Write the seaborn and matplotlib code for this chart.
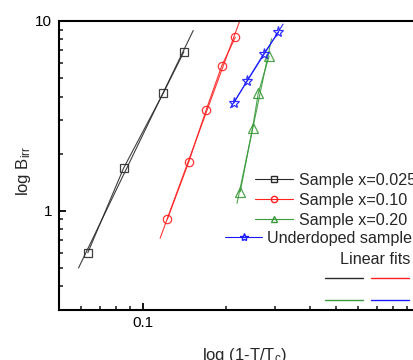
import numpy as np
import pandas as pd
import matplotlib
matplotlib.use("Agg")
import matplotlib.pyplot as plt
from matplotlib.lines import Line2D
from matplotlib.ticker import LogLocator, NullFormatter, FixedLocator, FixedFormatter
import seaborn as sns

# ---- data ----
x_025 = [0.0635, 0.0855, 0.1189, 0.141]
y_025 = [0.601, 1.68, 4.18, 6.89]
x_010 = [0.1229, 0.1466, 0.1696, 0.1931, 0.216]
y_010 = [0.904, 1.80, 3.40, 5.82, 8.21]
x_020 = [0.225, 0.2494, 0.2612, 0.286]
y_020 = [1.26, 2.74, 4.16, 6.54]
x_und = [0.2132, 0.2378, 0.2731, 0.309]
y_und = [3.69, 4.83, 6.70, 8.72]
fit_range_025 = [0.0588, 0.1523]
fit_range_010 = [0.1157, 0.232]
fit_range_020 = [0.219, 0.2917]
fit_range_und = [0.2073, 0.321]
labels = ["Sample x=0.025", "Sample x=0.10", "Sample x=0.20", "Underdoped sample"]
fit_title = "Linear fits"

c_blk, c_red, c_grn, c_blu = "#2a2a2a", "#ff2020", "#3a9a3a", "#1a1aff"

sns.set_style("ticks")
plt.rcParams["font.family"] = ["Liberation Sans", "DejaVu Sans"]
plt.rcParams["mathtext.fontset"] = "custom"
plt.rcParams["mathtext.rm"] = "Liberation Sans"
plt.rcParams["mathtext.it"] = "Liberation Sans:italic"

fig = plt.figure(figsize=(4.14, 3.6), dpi=100)
ax = fig.add_axes([59/414, 50/360, 361/414, 289/360])

series = [
    (x_025, y_025, fit_range_025, c_blk, "s"),
    (x_010, y_010, fit_range_010, c_red, "o"),
    (x_020, y_020, fit_range_020, c_grn, "^"),
    (x_und, y_und, fit_range_und, c_blu, "*"),
]
ms = {"s": 5.5, "o": 6, "^": 7.5, "*": 8}
for xs, ys, fr, col, mk in series:
    df = pd.DataFrame({"x": xs, "y": ys})
    sns.lineplot(data=df, x="x", y="y", ax=ax, color=col, lw=0.8, marker=mk,
                 markersize=ms[mk], markerfacecolor="none", markeredgecolor=col,
                 markeredgewidth=0.9, sort=False, estimator=None, alpha=0.9)
    k, b = np.polyfit(np.log10(xs), np.log10(ys), 1)
    fx = np.array(fr)
    fy = 10 ** (k * np.log10(fx) + b)
    sns.lineplot(x=fx, y=fy, ax=ax, color=col, lw=0.8, estimator=None, alpha=0.9)

ax.set_xscale("log")
ax.set_yscale("log")
ax.set_xlim(0.05, 1.0)
ax.set_ylim(0.3, 10)

ax.xaxis.set_major_locator(FixedLocator([0.1, 1.0]))
ax.xaxis.set_major_formatter(FixedFormatter(["0.1", "1"]))
ax.xaxis.set_minor_locator(LogLocator(base=10, subs=np.arange(2, 10)))
ax.xaxis.set_minor_formatter(NullFormatter())
ax.yaxis.set_major_locator(FixedLocator([1, 10]))
ax.yaxis.set_major_formatter(FixedFormatter(["1", "10"]))
ax.yaxis.set_minor_locator(LogLocator(base=10, subs=np.arange(2, 10)))
ax.yaxis.set_minor_formatter(NullFormatter())

ax.tick_params(which="major", direction="in", length=5, width=1.3, labelsize=11,
               colors="black", top=False, right=False)
ax.tick_params(axis="x", which="major", pad=4)
ax.tick_params(axis="y", which="major", pad=5)
ax.tick_params(which="minor", direction="in", length=3, width=1.2, top=False, right=False)
for s in ["left", "bottom", "top", "right"]:
    ax.spines[s].set_linewidth(1.5)
    ax.spines[s].set_color("black")

ax.set_xlabel(r"log (1-T/T$_{\rm c}$)", fontsize=12)
ax.set_ylabel(r"log B$_{\rm irr}$", fontsize=12)
ax.xaxis.set_label_coords(0.514, -0.124)
ax.yaxis.set_label_coords(-0.072, 0.48)

# legends
fs = 11.6
def h(col, mk, msz):
    return Line2D([], [], color=col, lw=0.8, marker=mk, markersize=msz,
                  markerfacecolor="none", markeredgecolor=col, markeredgewidth=1.0)

leg1 = ax.legend(handles=[h(c_blk, "s", 4), h(c_red, "o", 4.5), h(c_grn, "^", 5)],
                 labels=labels[:3], frameon=False, fontsize=fs,
                 handlelength=2.36, handletextpad=0.37, labelspacing=0.31,
                 borderpad=0, borderaxespad=0, loc="upper left",
                 bbox_to_anchor=(255/414, (360-173)/360), bbox_transform=fig.transFigure)
ax.add_artist(leg1)
leg2 = ax.legend(handles=[h(c_blu, "*", 6)], labels=labels[3:], frameon=False,
                 fontsize=fs, handlelength=2.3, handletextpad=0.3,
                 borderpad=0, borderaxespad=0, loc="upper left",
                 bbox_to_anchor=(225/414, (360-231)/360), bbox_transform=fig.transFigure)
ax.add_artist(leg2)
fig.text(410/414, 1 - 260/360, fit_title, ha="right", va="center", fontsize=fs)
fit_handles = [Line2D([], [], color=c, lw=1.0) for c in [c_blk, c_grn, c_red, c_blu]]
leg3 = ax.legend(handles=fit_handles, labels=[""] * 4, ncol=2, frameon=False,
                 fontsize=fs, handlelength=2.36, handletextpad=0.0,
                 columnspacing=0.5, labelspacing=0.4,
                 borderpad=0, borderaxespad=0, loc="upper right",
                 bbox_to_anchor=(409/414, (360-272)/360), bbox_transform=fig.transFigure)

fig.savefig("out.png", dpi=100)
